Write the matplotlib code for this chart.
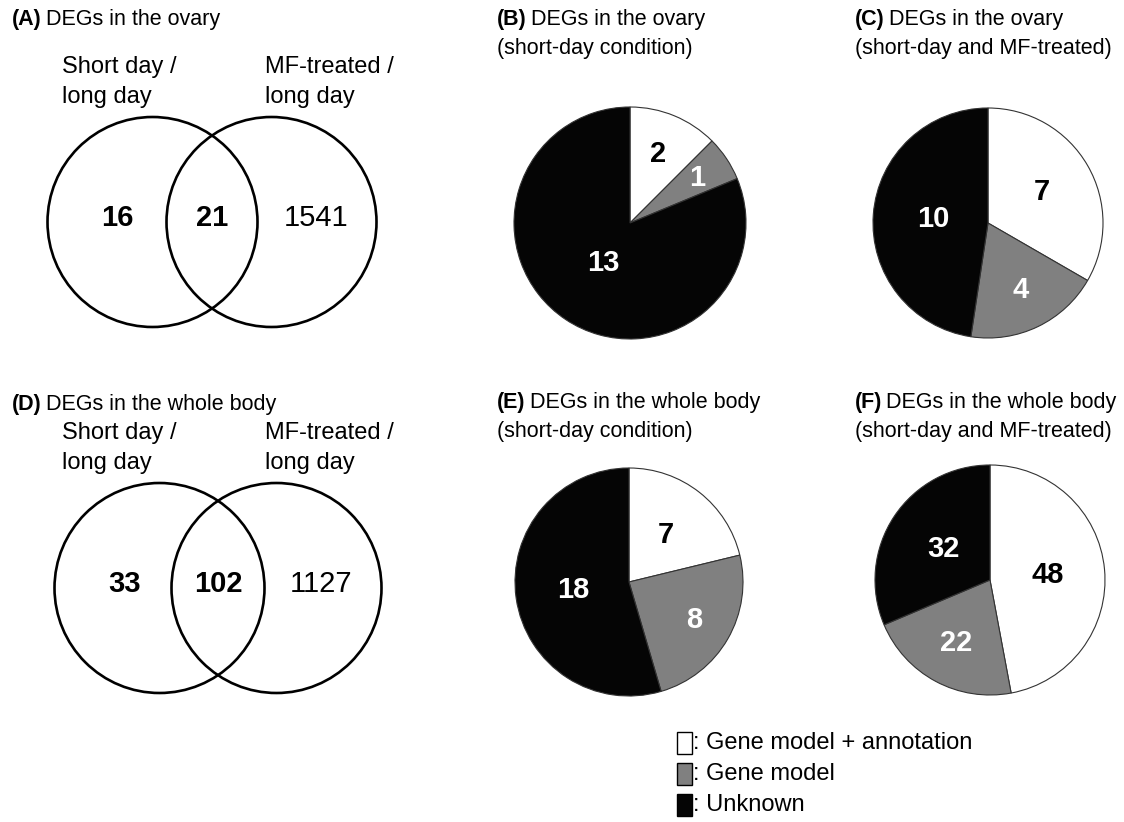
import numpy as np
import matplotlib.pyplot as plt
from matplotlib.patches import Circle, Rectangle

plt.rcParams['font.family'] = ['Liberation Sans', 'DejaVu Sans']

W, H = 1124, 822

# DEG counts: only short day, shared, only MF-treated
venn_ovary = [16, 21, 1541]
venn_body = [33, 102, 1127]
venn_sets = ['Short day /\nlong day', 'MF-treated /\nlong day']

# annotation classes for the short-day / shared DEGs
categories = ['Gene model + annotation', 'Gene model', 'Unknown']
pie_b = [2, 1, 13]
pie_c = [7, 4, 10]
pie_e = [7, 8, 18]
pie_f = [48, 22, 32]

colors = ['white', '#808080', '#050505']
text_colors = ['black', 'white', 'white']

fig = plt.figure(figsize=(W / 100, H / 100), dpi=100)
ax = fig.add_axes([0, 0, 1, 1])
ax.axis('off')


def Y(y):
    # pixel row (top down) -> data y (bottom up)
    return H - y


def title(x, y, tag, line1, line2=None):
    t = ax.text(x, Y(y), tag, fontsize=15.5, fontweight='bold', va='center', ha='left')
    fig.canvas.draw()
    x1 = ax.transData.inverted().transform(t.get_window_extent().corners()[-1])[0]
    ax.text(x1 + 4, Y(y), line1, fontsize=15.5, va='center', ha='left')
    if line2:
        ax.text(x, Y(y + 29), line2, fontsize=15.5, va='center', ha='left')


def venn(cx, cy, r, gap, counts):
    for dx in (-gap / 2, gap / 2):
        ax.add_patch(Circle((cx + dx, Y(cy)), r, fill=False, lw=1.9, ec='black'))
    ax.text(62, Y(cy - 140), venn_sets[0], fontsize=17, va='center', ha='left', linespacing=1.45)
    ax.text(265, Y(cy - 140), venn_sets[1], fontsize=17, va='center', ha='left',
            linespacing=1.45)
    xs = [cx - gap / 2 - 35, cx, cx + gap / 2 + 45]
    weights = ['bold', 'bold', 'normal']
    for x, n, w in zip(xs, counts, weights):
        ax.text(x, Y(cy - 4), str(n), fontsize=21, fontweight=w, ha='center', va='center')


def pie(cx, cy, r, values, dists):
    wedges, _ = ax.pie(values, colors=colors, startangle=90, counterclock=False,
                       center=(cx, Y(cy)), radius=r,
                       wedgeprops=dict(edgecolor='#333333', linewidth=0.8))
    for w, v, d, tc in zip(wedges, values, dists, text_colors):
        mid = np.deg2rad((w.theta1 + w.theta2) / 2)
        ax.text(cx + d * r * np.cos(mid), Y(cy) + d * r * np.sin(mid), str(v),
                fontsize=21, fontweight='bold', color=tc, ha='center', va='center')


venn(212, 222, 105, 119, venn_ovary)
venn(218, 588, 105, 117, venn_body)

pie(630, 223, 116, pie_b, [0.64, 0.70, 0.41])
pie(988, 223, 115, pie_c, [0.54, 0.65, 0.48])
pie(629, 582, 114, pie_e, [0.52, 0.66, 0.49])
pie(990, 580, 115, pie_f, [0.50, 0.62, 0.49])

# legend for the annotation classes
for i, (c, lab) in enumerate(zip(colors, categories)):
    y = 743 + i * 31
    ax.add_patch(Rectangle((677, Y(y) - 11), 15, 22, fc=c, ec='black', lw=1))
    ax.text(693, Y(y), ': ' + lab, fontsize=17, va='center', ha='left')

ax.set_xlim(0, W)
ax.set_ylim(0, H)
ax.set_aspect('equal')

title(12, 20, '(A)', 'DEGs in the ovary')
title(12, 405, '(D)', 'DEGs in the whole body')
title(497, 20, '(B)', 'DEGs in the ovary', '(short-day condition)')
title(855, 20, '(C)', 'DEGs in the ovary', '(short-day and MF-treated)')
title(497, 403, '(E)', 'DEGs in the whole body', '(short-day condition)')
title(855, 403, '(F)', 'DEGs in the whole body', '(short-day and MF-treated)')

fig.savefig('out.png', dpi=100)
